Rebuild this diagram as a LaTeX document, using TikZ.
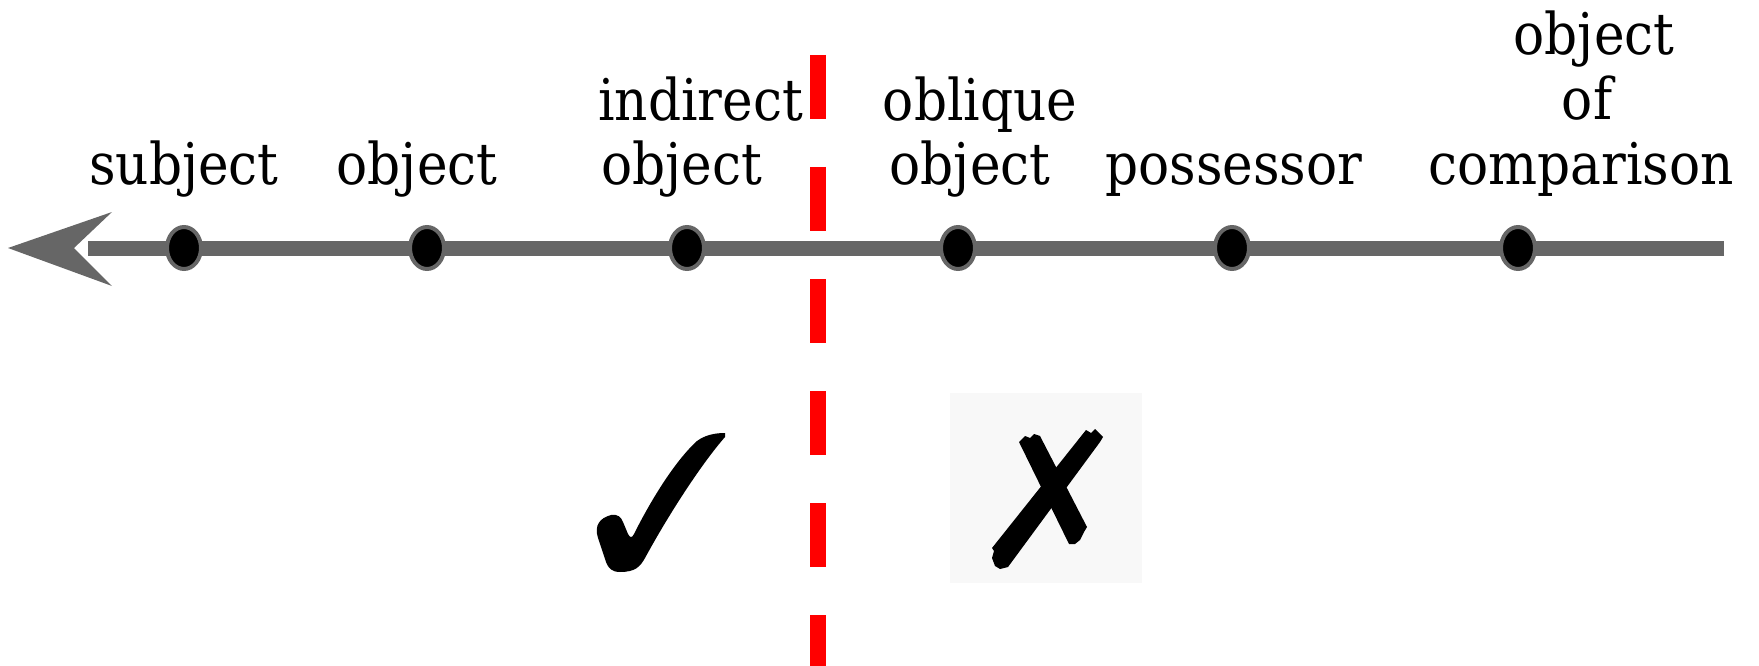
\documentclass[tikz,border=0pt]{standalone}
\usepackage{fontspec}
\setmainfont{DejaVu Serif Condensed}
\usetikzlibrary{shapes.geometric}
\definecolor{axisgray}{HTML}{666666}
\definecolor{boxgray}{HTML}{F8F8F8}
\definecolor{dashred}{HTML}{FF0000}
\begin{document}
\begin{tikzpicture}[x=1pt,y=-1pt,
  lbl/.style={font=\fontsize{57.5}{69}\selectfont, inner sep=0pt, anchor=base, text=black},
  lblw/.style={lbl, anchor=base west},
  axisline/.style={draw=axisgray, line width=15pt, line cap=butt},
  dot/.style={ellipse, fill=black, draw=axisgray, line width=4pt, minimum width=34pt, minimum height=42pt, inner sep=0pt},
  divider/.style={draw=dashred, line width=16pt, line cap=butt, dash pattern=on 64pt off 48pt},
  inkmark/.style={fill=black}]
\useasboundingbox (0,0) rectangle (1759,666);
% axis with arrow
\coordinate (aend) at (1724,248);
\coordinate (ajoin) at (88,248);
\coordinate (atip) at (8,248);
\coordinate (anotch) at (74,248);
\coordinate (abarbT) at (112,212);
\coordinate (abarbB) at (112,286);
\draw[axisline] (aend) -- (ajoin);
\fill[axisgray] (atip) -- (abarbT) -- (anotch) -- (abarbB) -- cycle;
% dots
\node[dot] (d1) at (184,248) {};
\node[dot] (d2) at (427,248) {};
\node[dot] (d3) at (687,248) {};
\node[dot] (d4) at (958,248) {};
\node[dot] (d5) at (1232,248) {};
\node[dot] (d6) at (1518,248) {};
% labels
\node[lbl] (l1) at (184,185) {subject};
\node[lbl] (l2) at (417,185) {object};
\node[lblw] (l3a) at (598,121) {indirect};
\node[lblw] (l3b) at (601,185) {object};
\node[lbl] (l4a) at (980,121) {oblique};
\node[lbl] (l4b) at (970,185) {object};
\node[lbl] (l5) at (1234,185) {possessor};
\node[lbl] (l6a) at (1594,55) {object};
\node[lbl] (l6b) at (1587,120) {of};
\node[lbl] (l6c) at (1581,185) {comparison};
% red divider
\coordinate (rtop) at (818,55);
\coordinate (rbot) at (818,666);
\draw[divider] (rtop) -- (rbot);
% cross box
\fill[boxgray] (950,393) rectangle (1142,583);
% check mark
\fill[inkmark] (611,515) .. controls (618,514) and (621,517) .. (623,522) -- (628,534)
  .. controls (630,538) and (632,538) .. (634,534)
  .. controls (652,498) and (676,460) .. (697,441)
  .. controls (705,435) and (715,433) .. (725,433) -- (725,437)
  .. controls (703,462) and (670,512) .. (645,558)
  .. controls (640,567) and (635,572) .. (620,572)
  .. controls (612,572) and (608,568) .. (606,562) -- (598,538)
  .. controls (594,525) and (600,518) .. (611,515) -- cycle;
% cross mark
\fill[inkmark] (1019,442) -- (1025,436) -- (1030,438) -- (1034,434) -- (1040,436)
  -- (1087,527) -- (1084,532) -- (1080,540) -- (1075,544) -- (1069,544) -- cycle;
\fill[inkmark] (1086,430) -- (1091,433) -- (1095,429) -- (1103,437) -- (1100,442)
  -- (1008,567) -- (1000,569) -- (995,566) -- (992,558) -- (994,551) -- (992,548) -- cycle;
\end{tikzpicture}
\end{document}
